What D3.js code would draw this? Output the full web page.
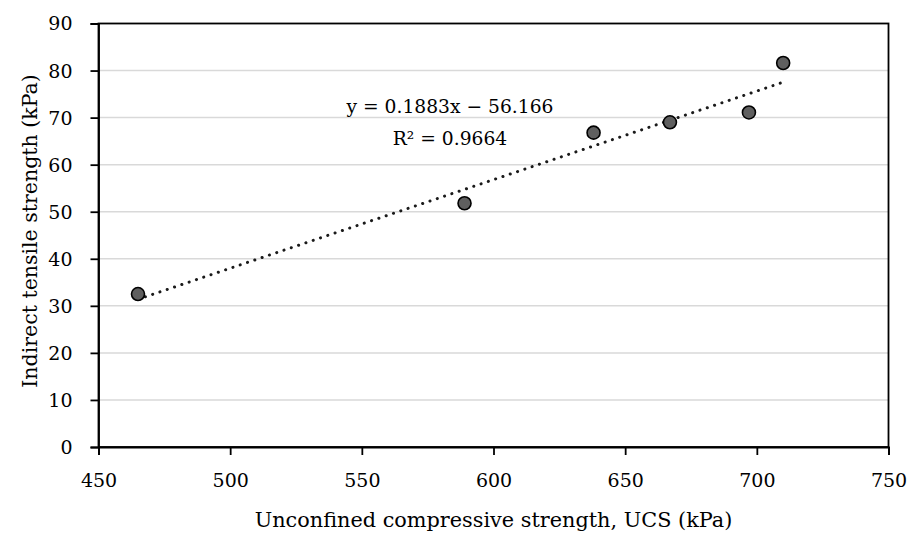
<!DOCTYPE html>
<html>
<head>
<meta charset="utf-8">
<script src="https://cdn.jsdelivr.net/npm/d3@7"></script>
<style>
  html, body { margin: 0; padding: 0; background: #fff; }
  svg text { font-family: "DejaVu Serif", serif; fill: #000; }
</style>
</head>
<body>
<svg id="chart" width="910" height="537"></svg>
<script>
// UCS vs. indirect tensile strength measurements
const ucs = [465, 589, 638, 667, 697, 710];
const its = [32.5, 51.8, 66.8, 69.0, 71.1, 81.6];

// Linear fit reported for the data
const slope = 0.1883;
const intercept = -56.166;
const fitLabel = "y = 0.1883x \u2212 56.166";
const r2Label = "R\u00B2 = 0.9664";

const xTicks = [450, 500, 550, 600, 650, 700, 750];
const yTicks = [0, 10, 20, 30, 40, 50, 60, 70, 80, 90];

const xTitle = "Unconfined compressive strength, UCS (kPa)";
const yTitle = "Indirect tensile strength (kPa)";

const svg = d3.select("#chart");
const plotL = 98.5, plotR = 888.5, plotT = 23.5, plotB = 447;
const fontFam = "'DejaVu Serif', serif";

const x = d3.scaleLinear().domain([450, 750]).range([plotL, plotR]);
const y = d3.scaleLinear().domain([0, 90]).range([plotB, plotT]);

// Horizontal gridlines
svg.append("g")
  .selectAll("line")
  .data(yTicks.filter(d => d > 0 && d < 90))
  .join("line")
  .attr("x1", plotL).attr("x2", plotR)
  .attr("y1", d => y(d)).attr("y2", d => y(d))
  .attr("stroke", "#d9d9d9").attr("stroke-width", 1.5);

// Plot frame
svg.append("rect")
  .attr("x", plotL).attr("y", plotT)
  .attr("width", plotR - plotL).attr("height", plotB - plotT)
  .attr("fill", "none").attr("stroke", "#000").attr("stroke-width", 1.8);

// Axes
const xAxis = svg.append("g")
  .attr("transform", `translate(0,${plotB})`)
  .call(d3.axisBottom(x).tickValues(xTicks).tickSize(8).tickPadding(19));
const yAxis = svg.append("g")
  .attr("transform", `translate(${plotL},0)`)
  .call(d3.axisLeft(y).tickValues(yTicks).tickSize(8).tickPadding(18));
[xAxis, yAxis].forEach(g => {
  g.attr("font-size", 19).attr("font-family", fontFam);
  g.select(".domain").attr("stroke", "#000").attr("stroke-width", 1.8);
  g.selectAll(".tick line").attr("stroke", "#000").attr("stroke-width", 1.8);
  g.selectAll(".tick text").attr("fill", "#000");
});
yAxis.selectAll(".tick text").attr("dy", "0.34em");

// Trendline across the data range
const xMin = d3.min(ucs), xMax = d3.max(ucs);
svg.append("line")
  .attr("x1", x(xMin)).attr("y1", y(slope * xMin + intercept))
  .attr("x2", x(xMax)).attr("y2", y(slope * xMax + intercept))
  .attr("stroke", "#1a1a1a").attr("stroke-width", 3)
  .attr("stroke-linecap", "round")
  .attr("stroke-dasharray", "0.1 7.6");

// Data points
svg.append("g")
  .selectAll("circle")
  .data(ucs.map((u, i) => [u, its[i]]))
  .join("circle")
  .attr("cx", d => x(d[0])).attr("cy", d => y(d[1]))
  .attr("r", 6.5)
  .attr("fill", "#5f5f5f").attr("stroke", "#000").attr("stroke-width", 1.6);

// Equation labels
svg.append("text")
  .attr("x", 450).attr("y", 113)
  .attr("text-anchor", "middle").attr("font-size", 18.7)
  .text(fitLabel);
svg.append("text")
  .attr("x", 450).attr("y", 145)
  .attr("text-anchor", "middle").attr("font-size", 18.7)
  .text(r2Label);

// Axis titles
svg.append("text")
  .attr("x", (plotL + plotR) / 2).attr("y", 527)
  .attr("text-anchor", "middle").attr("font-size", 20.8)
  .text(xTitle);
svg.append("text")
  .attr("transform", "translate(37,231) rotate(-90)")
  .attr("text-anchor", "middle").attr("font-size", 20.5)
  .text(yTitle);
</script>
</body>
</html>
